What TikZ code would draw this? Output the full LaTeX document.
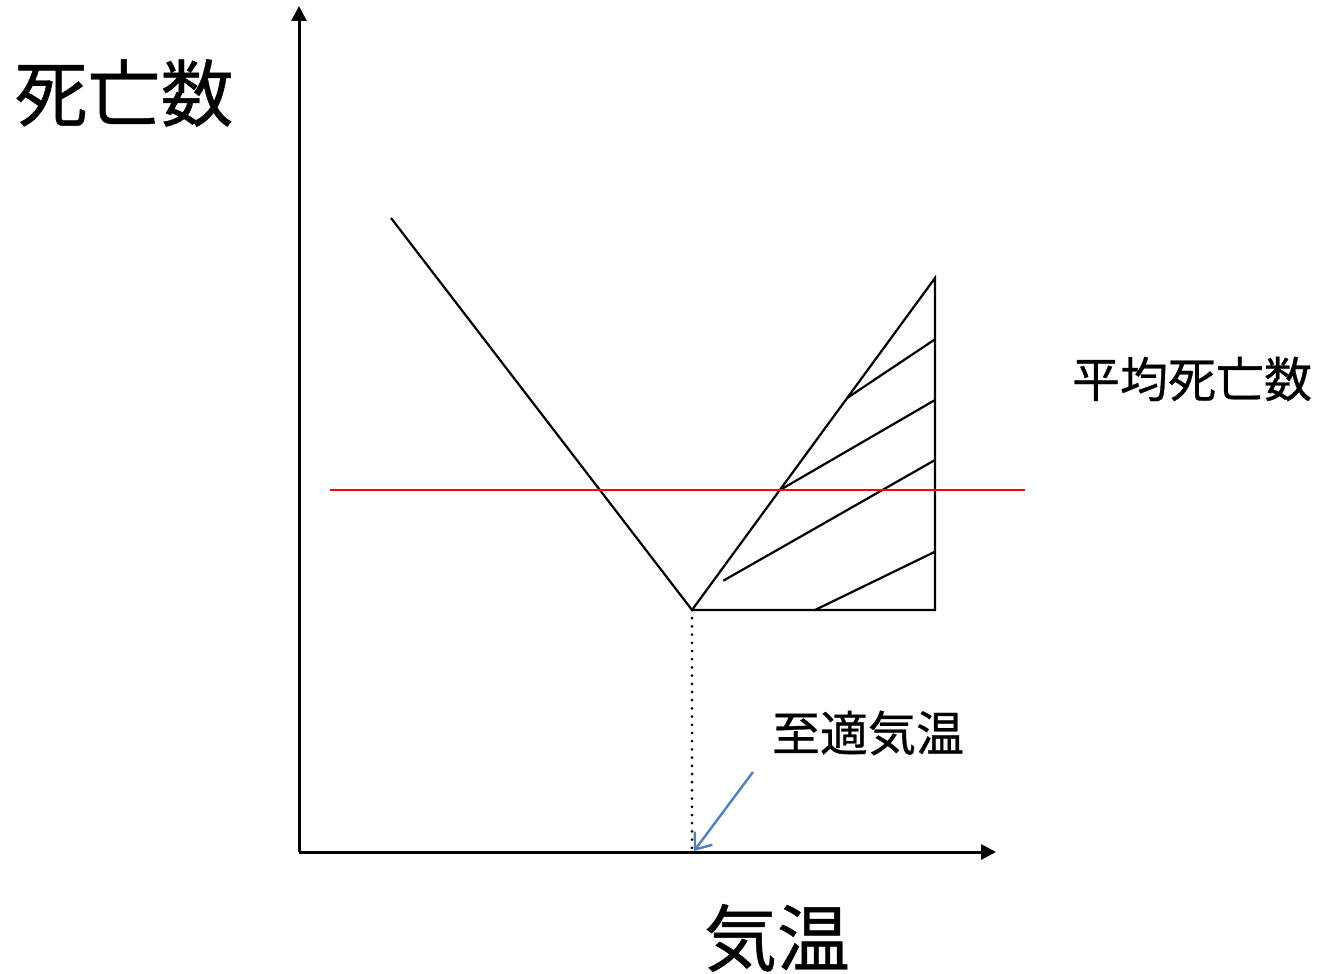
\documentclass[tikz,border=0pt]{standalone}
\usepackage{fontspec}
\newfontfamily\jp[FakeBold=0.6]{Noto Sans CJK JP}
\usetikzlibrary{arrows.meta}
\begin{document}
\begin{tikzpicture}[x=1pt,y=-1pt,
  big/.style={font=\jp\fontsize{73}{80}\selectfont, inner sep=0pt},
  small/.style={font=\jp\fontsize{48}{52}\selectfont, inner sep=0pt},
  plot/.style={line width=2.2pt, black},
  axis/.style={line width=3pt, black, -{Triangle[length=15pt,width=15pt]}}]
\useasboundingbox (0,0) rectangle (1317,974);
% coordinates
\coordinate (O) at (299,852);
\coordinate (ytop) at (299,6);
\coordinate (xend) at (996,852);
\coordinate (L) at (391,218);
\coordinate (V) at (692,610);
\coordinate (T) at (935,278);
\coordinate (B) at (935,610);
\coordinate (base) at (692,852);
\coordinate (r1) at (330,490);
\coordinate (r2) at (1025,490);
\coordinate (a1) at (753,772);
\coordinate (a2) at (694,851);
\coordinate (h1a) at (846.7,398.3); \coordinate (h1b) at (935,339.3);
\coordinate (h2a) at (780,490);    \coordinate (h2b) at (935,400);
\coordinate (h3a) at (723.3,580.7); \coordinate (h3b) at (935,460);
\coordinate (h4a) at (815,610);    \coordinate (h4b) at (935,551.7);
% axes
\draw[axis] (O) -- (ytop);
\draw[axis] (O) -- (xend);
% plot
\draw[plot, line join=miter] (L) -- (V) -- (T) -- (B) -- (V);
\draw[plot] (h1a) -- (h1b);
\draw[plot] (h2a) -- (h2b);
\draw[plot] (h3a) -- (h3b);
\draw[plot] (h4a) -- (h4b);
\draw[line width=2pt, red] (r1) -- (r2);
\draw[line width=3pt, dash pattern=on 0pt off 8.2pt, line cap=round] (V) -- (base);
\draw[line width=2.4pt, color={rgb,255:red,79;green,129;blue,189}, -{Straight Barb[length=14pt,width=22pt]}] (a1) -- (a2);
% labels
\node[big] (ylab) at (124,93) {死亡数};
\node[big] (xlab) at (777,938) {気温};
\node[small] (avg) at (1192,379) {平均死亡数};
\node[small] (opt) at (868,733) {至適気温};
\end{tikzpicture}
\end{document}
